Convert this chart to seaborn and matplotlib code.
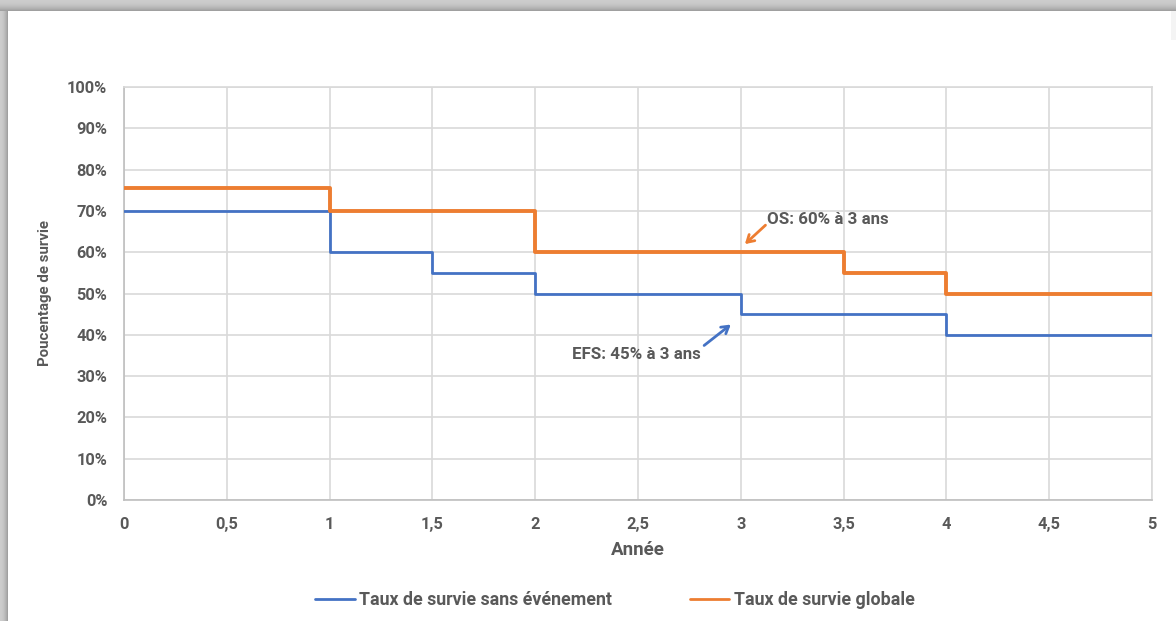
import numpy as np
import pandas as pd
import matplotlib
matplotlib.use("Agg")
import matplotlib.pyplot as plt
from matplotlib.lines import Line2D
from matplotlib.ticker import FuncFormatter, MultipleLocator
import seaborn as sns

# Survival curves (percent), step changes at the listed times
efs_times = [0, 1, 1.5, 2, 3, 4, 5]
efs_surv = [70, 60, 55, 50, 45, 40, 40]
os_times = [0, 1, 2, 3.5, 4, 5]
os_surv = [75.5, 70, 60, 55, 50, 50]

efs_label = "Taux de survie sans événement"
os_label = "Taux de survie globale"
x_label = "Année"
y_label = "Poucentage de survie"
os_note = "OS: 60% à 3 ans"
efs_note = "EFS: 45% à 3 ans"

BLUE = "#4472C4"
ORANGE = "#ED7D31"
TXT = "#595959"
GRID = "#d9d9d9"
WEIGHT = "bold"

sns.set_style("white")
plt.rcParams["font.family"] = ["Roboto", "DejaVu Sans"]

W, H = 1176, 621
fig = plt.figure(figsize=(W / 100, H / 100), dpi=100)

# Card background with a soft drop shadow on top and left edges
bg = np.ones((H, W, 3))
for y in range(11):
    v = 0.80 - 0.17 * (y / 10.0) ** 2
    bg[y, :, :] = v
for x in range(8):
    v = 0.80 - 0.17 * (x / 7.0) ** 2
    bg[11:, x, :] = np.minimum(bg[11:, x, :], v)
for x in range(W - 5, W):
    bg[:40, x, :] = np.minimum(bg[:40, x, :], 0.96)
bax = fig.add_axes([0, 0, 1, 1], zorder=-10)
bax.imshow(bg, aspect="auto", extent=(0, 1, 0, 1), interpolation="bilinear")
bax.set_axis_off()

ax = fig.add_axes([124 / W, 1 - 500 / H, (1152 - 124) / W, (500 - 87) / H])
ax.patch.set_alpha(0)

efs_df = pd.DataFrame({"t": efs_times, "s": efs_surv})
os_df = pd.DataFrame({"t": os_times, "s": os_surv})
sns.lineplot(data=efs_df, x="t", y="s", ax=ax, color=BLUE, lw=2.0,
             drawstyle="steps-post", estimator=None, sort=False, zorder=3)
sns.lineplot(data=os_df, x="t", y="s", ax=ax, color=ORANGE, lw=2.8,
             drawstyle="steps-post", estimator=None, sort=False, zorder=4)

ax.set_xlim(0, 5)
ax.set_ylim(0, 100)
ax.xaxis.set_major_locator(MultipleLocator(0.5))
ax.yaxis.set_major_locator(MultipleLocator(10))
ax.xaxis.set_major_formatter(FuncFormatter(lambda v, p: f"{v:g}".replace(".", ",")))
ax.yaxis.set_major_formatter(FuncFormatter(lambda v, p: f"{v:.0f}%"))
ax.grid(True, color=GRID, lw=1.2)
ax.set_axisbelow(True)
for side in ["top", "right"]:
    ax.spines[side].set_color(GRID)
    ax.spines[side].set_linewidth(1.2)
for side in ["left", "bottom"]:
    ax.spines[side].set_color("#bfbfbf")
    ax.spines[side].set_linewidth(1.2)
ax.tick_params(length=0, labelsize=11.8, labelcolor=TXT)
ax.tick_params(axis="y", pad=12)
ax.tick_params(axis="x", pad=12)
for lab in ax.get_xticklabels() + ax.get_yticklabels():
    lab.set_fontweight(WEIGHT)

ax.set_xlabel(x_label, fontsize=13.5, fontweight="bold", color=TXT, labelpad=7)
ax.set_ylabel(y_label, fontsize=10.8, fontweight="bold", color=TXT, labelpad=11)

# Annotations at 3 years
ax.text(3.125, 68.0, os_note, fontsize=12.2, fontweight=WEIGHT, color=TXT,
        ha="left", va="center")
ax.annotate("", xy=(3.01, 61.5), xytext=(3.13, 67.0),
            arrowprops=dict(arrowstyle="->,head_length=0.5,head_width=0.3",
                            color=ORANGE, lw=2))
ax.text(2.806, 35.35, efs_note, fontsize=12.2, fontweight=WEIGHT, color=TXT,
        ha="right", va="center")
ax.annotate("", xy=(2.962, 42.9), xytext=(2.811, 37.0),
            arrowprops=dict(arrowstyle="->,head_length=0.5,head_width=0.3",
                            color=BLUE, lw=2))

handles = [Line2D([], [], color=BLUE, lw=2), Line2D([], [], color=ORANGE, lw=2)]
leg = fig.legend(handles, [efs_label, os_label], loc="center",
                 bbox_to_anchor=(615 / W, 1 - 600 / H), ncol=2, frameon=False,
                 handlelength=2.2, handletextpad=0.25, columnspacing=4.4,
                 prop=dict(size=12.8, weight=WEIGHT))
for t in leg.get_texts():
    t.set_color(TXT)

fig.savefig("out.png", dpi=100)
